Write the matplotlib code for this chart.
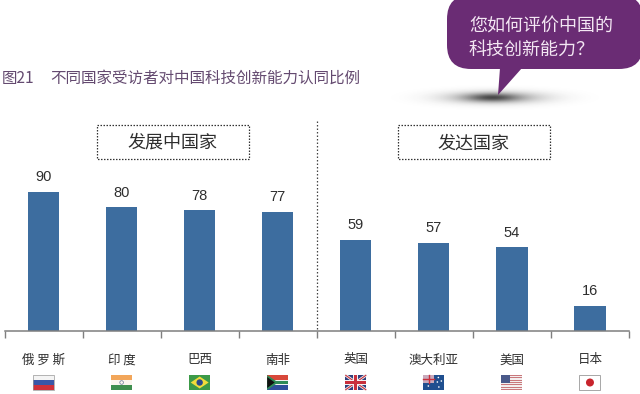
import numpy as np
import matplotlib
matplotlib.use('Agg')
import matplotlib.pyplot as plt
from matplotlib.patches import FancyBboxPatch, Rectangle, Polygon, Circle

plt.rcParams['font.family'] = ['Noto Sans CJK SC', 'DejaVu Sans']

countries = ['俄 罗 斯', '印 度', '巴西', '南非', '英国', '澳大利亚', '美国', '日本']
values = [90, 80, 78, 77, 59, 57, 54, 16]
flags = ['ru', 'in', 'br', 'za', 'gb', 'au', 'us', 'jp']
fig_no = '图21'
title = '不同国家受访者对中国科技创新能力认同比例'
group_labels = ['发展中国家', '发达国家']
bubble_lines = ['您如何评价中国的', '科技创新能力？']

BAR = '#3d6d9f'
GREY = '#7f7f7f'
TEXT = '#2e2e2e'
PURPLE = '#6a2c74'
TITLE = '#644a70'

fig = plt.figure(figsize=(6.4, 3.94), dpi=100)

# слой для оформления, координаты в пикселях
bg = fig.add_axes([0, 0, 1, 1])
bg.axis('off')

# тень под выноской
xx, yy = np.meshgrid(np.linspace(375, 615, 320), np.linspace(75, 120, 90))
shadow = 0.45 * np.exp(-((xx - 495) / 48) ** 2 - ((yy - 97.5) / 6) ** 2)
shadow += 0.4 * np.exp(-((xx - 492) / 24) ** 2 - ((yy - 97.5) / 4) ** 2)
rgba = np.zeros(shadow.shape + (4,))
rgba[..., :3] = 0.15
rgba[..., 3] = shadow
bg.imshow(rgba, extent=(375, 615, 120, 75), aspect='auto', zorder=1)
bg.set_xlim(0, 640)
bg.set_ylim(394, 0)

# выноска
bg.add_patch(FancyBboxPatch((447, -5), 196, 74, boxstyle='round,pad=0,rounding_size=24',
                            fc=PURPLE, ec='none', zorder=2))
bg.add_patch(Polygon([(500, 68), (498, 95), (522, 68)], fc=PURPLE, ec='none', zorder=2))
for i, line in enumerate(bubble_lines):
    bg.text(469, 26.5 + i * 23, line, color='#f3e6f3', fontsize=13, va='center', ha='left', zorder=3)

bg.text(2, 78, fig_no, color=TITLE, fontsize=11.2, va='center', ha='left')
bg.text(50, 78, title, color=TITLE, fontsize=11.2, va='center', ha='left')

# рамки групп
for x0, w, label in [(97, 152, group_labels[0]), (398, 152, group_labels[1])]:
    bg.add_patch(Rectangle((x0, 125), w, 33.5, fc='none', ec='#333333', lw=0.9, ls=(0, (1.2, 1.2))))
    bg.text(x0 + w / 2 - 1, 144, label, color=TEXT, fontsize=13, ha='center', va='center')
bg.plot([317, 317], [121, 330], color='#444444', lw=0.9, ls=(0, (1.2, 1.6)))

# основная диаграмма
ax = fig.add_axes([4.5 / 640, (394 - 330.5) / 394, 624.5 / 640, 180 / 394])
ax.patch.set_alpha(0)
x = np.arange(len(values))
ax.bar(x, values, width=0.4, color=BAR, zorder=2)
ax.set_xlim(-0.5, 7.5)
ax.set_ylim(0, 180 / 1.54)
for s in ['top', 'left', 'right']:
    ax.spines[s].set_visible(False)
ax.spines['bottom'].set_color(GREY)
ax.spines['bottom'].set_linewidth(1.1)
ax.set_yticks([])
ax.set_xticks(np.arange(-0.5, 8, 1))
ax.set_xticklabels([])
ax.tick_params(axis='x', length=5, width=1, color=GREY)
for xi, v in zip(x, values):
    ax.annotate(str(v), (xi, v), xytext=(0, 5.5), textcoords='offset points', ha='center', va='bottom',
                fontsize=10.5, color=TEXT, family='Liberation Sans')


def px(i):
    return 4.5 + (i + 0.5) * 624.5 / 8


def draw_flag(code, cx, top=375, w=21, h=15):
    l = cx - w / 2
    z = 3
    def band(y, hh, c, xs=l, ww=w):
        bg.add_patch(Rectangle((xs, y), ww, hh, fc=c, ec='none', zorder=z))
    if code == 'ru':
        band(top, h / 3, '#f4f4f4')
        band(top + h / 3, h / 3, '#3a57a8')
        band(top + 2 * h / 3, h / 3, '#d0313a')
        bg.add_patch(Rectangle((l, top), w, h, fc='none', ec='#999999', lw=0.5, zorder=z + 1))
    elif code == 'in':
        band(top, h / 3, '#f2a65a')
        band(top + h / 3, h / 3, '#fbf6ef')
        band(top + 2 * h / 3, h / 3, '#3f8f4f')
        bg.add_patch(Circle((cx, top + h / 2), 1.8, fc='none', ec='#667799', lw=0.5, zorder=z + 1))
    elif code == 'br':
        band(top, h, '#3c9a48')
        bg.add_patch(Polygon([(l + 1.5, top + h / 2), (cx, top + 1.5), (l + w - 1.5, top + h / 2), (cx, top + h - 1.5)],
                             fc='#f1dc3c', ec='none', zorder=z + 1))
        bg.add_patch(Circle((cx, top + h / 2), 3.2, fc='#2b4a8c', ec='none', zorder=z + 2))
    elif code == 'za':
        band(top, h / 2, '#d8483a')
        band(top + h / 2, h / 2, '#2f4f9c')
        band(top + h / 2 - 2.2, 4.4, '#f2f2f2')
        band(top + h / 2 - 1.4, 2.8, '#2e8b57')
        bg.add_patch(Polygon([(l, top), (l + 11, top + h / 2), (l, top + h)], fc='#2e8b57', ec='none', zorder=z + 1))
        bg.add_patch(Polygon([(l, top + 2), (l + 7.5, top + h / 2), (l, top + h - 2)], fc='#111111', ec='none', zorder=z + 2))
    elif code == 'gb':
        band(top, h, '#2f3f7c')
        bg.plot([l, l + w], [top, top + h], color='#f2f2f2', lw=2, zorder=z + 1, solid_capstyle='butt')
        bg.plot([l, l + w], [top + h, top], color='#f2f2f2', lw=2, zorder=z + 1, solid_capstyle='butt')
        bg.plot([l, l + w], [top, top + h], color='#c8303c', lw=0.8, zorder=z + 2, solid_capstyle='butt')
        bg.plot([l, l + w], [top + h, top], color='#c8303c', lw=0.8, zorder=z + 2, solid_capstyle='butt')
        bg.add_patch(Rectangle((cx - 2.5, top), 5, h, fc='#f2f2f2', ec='none', zorder=z + 3))
        bg.add_patch(Rectangle((l, top + h / 2 - 2.5), w, 5, fc='#f2f2f2', ec='none', zorder=z + 3))
        bg.add_patch(Rectangle((cx - 1.4, top), 2.8, h, fc='#c8303c', ec='none', zorder=z + 4))
        bg.add_patch(Rectangle((l, top + h / 2 - 1.4), w, 2.8, fc='#c8303c', ec='none', zorder=z + 4))
    elif code == 'au':
        band(top, h, '#1f4f8f')
        bg.add_patch(Rectangle((l, top), w / 2, h / 2, fc='#c9a9bb', ec='none', zorder=z + 1))
        bg.plot([l, l + w / 2], [top + h / 4] * 2, color='#c8303c', lw=1, zorder=z + 2)
        bg.plot([l + w / 4] * 2, [top, top + h / 2], color='#c8303c', lw=1, zorder=z + 2)
        for sx, sy in [(l + 5, top + 11), (l + 15, top + 2.5), (l + 18, top + 6), (l + 14, top + 7), (l + 15.5, top + 12)]:
            bg.add_patch(Circle((sx, sy), 0.8, fc='white', ec='none', zorder=z + 2))
    elif code == 'us':
        for k in range(7):
            band(top + k * 2 * h / 13, h / 13, '#c9787c')
            if k < 6:
                band(top + (k * 2 + 1) * h / 13, h / 13, '#f3eeee')
        bg.add_patch(Rectangle((l, top), w * 0.42, h * 7 / 13, fc='#4a5a8a', ec='none', zorder=z + 1))
    elif code == 'jp':
        band(top, h, '#ffffff')
        bg.add_patch(Rectangle((l, top), w, h, fc='none', ec='#999999', lw=0.6, zorder=z + 1))
        bg.add_patch(Circle((cx, top + h / 2), 4, fc='#c8242c', ec='none', zorder=z + 2))


for i, (name, code) in enumerate(zip(countries, flags)):
    cx = px(i)
    bg.text(cx, 360, name, color=TEXT, fontsize=9, ha='center', va='center')
    draw_flag(code, cx)

plt.savefig('out.png', dpi=100)
plt.close()
